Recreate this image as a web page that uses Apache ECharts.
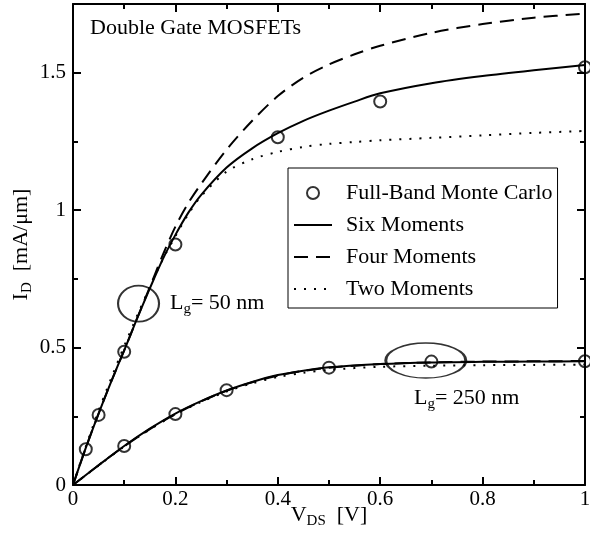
<!DOCTYPE html>
<html><head><meta charset="utf-8">
<script src="https://cdn.jsdelivr.net/npm/echarts@6/dist/echarts.min.js"></script>
<style>html,body{margin:0;padding:0;background:#fff}#c{width:590px;height:541px}</style>
</head><body><div id="c"></div>
<script>
// ---- data ----
const xs50   = [0,0.025,0.05,0.075,0.1,0.125,0.15,0.175,0.2,0.225,0.25,0.3,0.35,0.4,0.45,0.5,0.55,0.6,0.7,0.8,0.9,1.0];
const six50  = [0,0.135,0.26,0.378,0.49,0.605,0.715,0.82,0.91,0.99,1.055,1.155,1.225,1.28,1.325,1.362,1.395,1.425,1.462,1.488,1.509,1.528];
const four50 = [0,0.135,0.26,0.378,0.49,0.605,0.72,0.835,0.94,1.025,1.095,1.22,1.325,1.415,1.482,1.53,1.567,1.598,1.645,1.677,1.70,1.715];
const two50  = [0,0.14,0.27,0.39,0.505,0.615,0.72,0.82,0.905,0.985,1.05,1.14,1.185,1.212,1.23,1.241,1.248,1.254,1.263,1.272,1.281,1.288];
const xs250   = [0,0.05,0.1,0.15,0.2,0.25,0.3,0.35,0.4,0.45,0.5,0.6,0.7,0.8,0.9,1.0];
const six250  = [0,0.072,0.142,0.205,0.26,0.305,0.344,0.375,0.40,0.416,0.428,0.44,0.446,0.448,0.449,0.45];
const four250 = [0,0.072,0.141,0.203,0.258,0.304,0.343,0.374,0.398,0.415,0.427,0.44,0.446,0.449,0.45,0.451];
const two250  = [0,0.071,0.14,0.202,0.257,0.302,0.34,0.37,0.393,0.408,0.419,0.43,0.434,0.436,0.437,0.438];
const mcX50  = [0.025,0.05,0.1,0.2,0.4,0.6,1.0];
const mcY50  = [0.13,0.255,0.485,0.875,1.265,1.395,1.52];
const mcX250 = [0.1,0.2,0.3,0.5,0.7,1.0];
const mcY250 = [0.142,0.258,0.345,0.427,0.449,0.45];
const yMajor = [0,0.5,1,1.5];
const yMinor = [0.25,0.75,1.25];
const ellipseAt = [[0.128,0.66],[0.689,0.453]];
const ellipseSize = [[41,36],[80,35]];
const legendNames = ['Full-Band Monte Carlo','Six Moments','Four Moments','Two Moments'];

const zip = (a,b)=>a.map((v,i)=>[v,b[i]]);
const F = 'Liberation Serif';
const chart = echarts.init(document.getElementById('c'), null, {renderer:'canvas'});
function lineSeries(name, xs, ys, type){
  return {name, type:'line', data:zip(xs,ys), symbol:'none', smooth:0.3, z:3,
    lineStyle:{color:'#000', width:2, type},
    itemStyle:{color:'rgba(0,0,0,0)', borderWidth:0, opacity:0}, emphasis:{disabled:true}};
}
function mcSeries(xs, ys){
  return {name:legendNames[0], type:'scatter', data:zip(xs,ys), symbol:'circle', symbolSize:12, z:4,
    itemStyle:{color:'rgba(0,0,0,0)', borderColor:'#000', borderWidth:2}, emphasis:{disabled:true}};
}
const rich = {
  m:{fontFamily:F, fontSize:22, color:'#000'},
  s:{fontFamily:F, fontSize:15, color:'#000', padding:[13,0,0,0]}
};
const tickStyle = {color:'#000', width:2};
const xCommon = {
  type:'value', min:0, max:1, interval:0.2,
  axisLine:{show:true, onZero:false, lineStyle:{color:'#000', width:2}},
  axisTick:{show:true, inside:true, length:8, lineStyle:tickStyle},
  minorTick:{show:true, splitNumber:2, length:5, lineStyle:tickStyle},
  splitLine:{show:false}, minorSplitLine:{show:false}
};
const yBase = {type:'value', min:0, max:1.75, splitLine:{show:false},
  axisLine:{show:true, onZero:false, lineStyle:{color:'#000', width:2}}};
chart.setOption({
  animation:false,
  backgroundColor:'#fff',
  grid:{left:73, right:5, top:4, bottom:56, containLabel:false, outerBoundsMode:'none'},
  xAxis:[
    Object.assign({}, xCommon, {position:'bottom',
      axisLabel:{color:'#000', fontFamily:F, fontSize:21, margin:4},
      name:'{m|V}{s|DS}{m|  [V]}', nameLocation:'middle', nameGap:16, nameMoveOverlap:false,
      nameTextStyle:{rich, verticalAlign:'top'}}),
    Object.assign({}, xCommon, {position:'top', axisLabel:{show:false}})
  ],
  yAxis:[
    Object.assign({}, yBase, {position:'left',
      axisTick:{show:true, inside:true, length:8, customValues:yMajor, lineStyle:tickStyle},
      axisLabel:{show:true, customValues:yMajor, color:'#000', fontFamily:F, fontSize:21, margin:7},
      name:'{m|I}{s|D}{m|  [mA/μm]}', nameLocation:'middle', nameGap:38, nameRotate:90, nameMoveOverlap:false,
      nameTextStyle:{rich}}),
    Object.assign({}, yBase, {position:'right',
      axisTick:{show:true, inside:true, length:8, customValues:yMajor, lineStyle:tickStyle},
      axisLabel:{show:false}}),
    Object.assign({}, yBase, {position:'left', axisLine:{show:false, onZero:false},
      axisTick:{show:true, inside:true, length:5, customValues:yMinor, lineStyle:tickStyle},
      axisLabel:{show:false}}),
    Object.assign({}, yBase, {position:'right', axisLine:{show:false, onZero:false},
      axisTick:{show:true, inside:true, length:5, customValues:yMinor, lineStyle:tickStyle},
      axisLabel:{show:false}})
  ],
  legend:{
    data:legendNames, orient:'vertical', left:288, top:168, selectedMode:false,
    backgroundColor:'#fff', borderColor:'#000', borderWidth:1, padding:[14,5,8,5],
    itemWidth:38, itemHeight:12, itemGap:10,
    textStyle:{fontFamily:F, fontSize:22, color:'#000', lineHeight:22, padding:[0,0,0,9]}
  },
  series:[
    lineSeries('Six Moments', xs50, six50, 'solid'),
    lineSeries('Six Moments', xs250, six250, 'solid'),
    lineSeries('Four Moments', xs50, four50, [14,8]),
    lineSeries('Four Moments', xs250, four250, [14,8]),
    lineSeries('Two Moments', xs50, two50, [2,8]),
    lineSeries('Two Moments', xs250, two250, [2,8]),
    mcSeries(mcX50, mcY50),
    mcSeries(mcX250, mcY250),
    {name:'ellipses', type:'scatter', z:5, silent:true,
     symbol:'path://M0,50 C0,22.4 22.4,0 50,0 C77.6,0 100,22.4 100,50 C100,77.6 77.6,100 50,100 C22.4,100 0,77.6 0,50 Z',
     data:ellipseAt.map((p,i)=>({value:p, symbolSize:ellipseSize[i]})),
     itemStyle:{color:'rgba(0,0,0,0)', borderColor:'#000', borderWidth:2}}
  ],
  graphic:[
    {type:'text', left:90, top:17, style:{text:'Double Gate MOSFETs', font:'22px "Liberation Serif"', fill:'#000'}},
    {type:'text', left:170, top:292, style:{text:'{m|L}{s|g}{m|= 50 nm}', rich, fill:'#000'}},
    {type:'text', left:414, top:387, style:{text:'{m|L}{s|g}{m|= 250 nm}', rich, fill:'#000'}}
  ]
});
</script></body></html>
